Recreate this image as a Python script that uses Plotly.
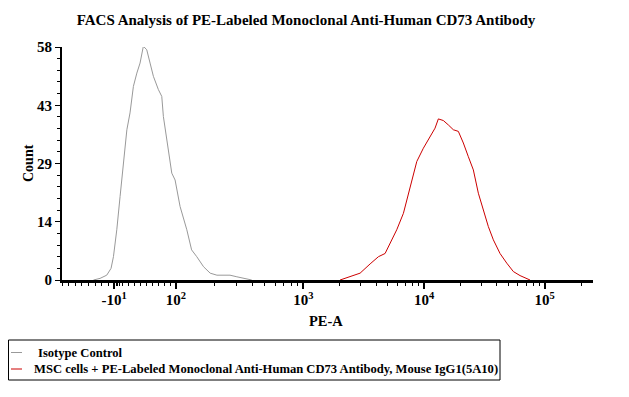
import numpy as np
import plotly.graph_objects as go

# ---------------- data (PE-A intensity, event count) ----------------
iso_pe = [-24.1, -18.2, -13.7, -11.4, -10.3, -2.9, 5.9, 10.8, 12.5, 14.3, 16.5, 19.1,
          21.9, 25.2, 27.1, 29.1, 33.5, 38.6, 47.7, 55.1, 59.0, 68.2, 84.3, 97.0,
          108, 122, 133, 146, 165, 186, 210, 222, 266, 301, 339, 394]
iso_count = [0.0, 0.4, 1.2, 2.9, 5.8, 12.5, 20.8, 29.0, 37.4, 41.6, 48.2, 51.5,
             54.0, 58.2, 57.8, 57.3, 54.0, 50.7, 47.4, 45.7, 40.7, 34.9, 26.6, 24.9,
             18.3, 12.5, 7.5, 5.8, 3.3, 1.7, 1.2, 1.2, 1.2, 0.8, 0.4, 0.0]

cd73_pe = [2014, 2438, 2951, 3573, 4188, 4755, 5228, 5939, 6745, 7656, 8707, 9868,
           11212, 12335, 13137, 14451, 15899, 17490, 19240, 21170, 23280, 25620,
           28180, 31000, 34100, 37520, 42630, 48450, 54950, 62440, 70950, 75530]
cd73_count = [0.0, 0.8, 1.7, 4.0, 5.8, 6.6, 9.1, 12.5, 16.6, 22.9, 29.5, 32.8,
              35.7, 37.8, 40.1, 39.7, 38.6, 37.4, 37.0, 34.1, 30.7, 27.4,
              21.6, 17.5, 13.3, 10.0, 6.6, 4.2, 2.1, 1.1, 0.4, 0.0]

x_tick_values = [-10, 100, 1000, 10000, 100000]
x_tick_labels = ["-10<sup>1</sup>", "10<sup>2</sup>", "10<sup>3</sup>", "10<sup>4</sup>", "10<sup>5</sup>"]
y_tick_values = [0, 14.5, 29, 43.5, 58]
y_tick_labels = ["0", "14", "29", "43", "58"]

series_names = ["Isotype Control",
                "MSC cells + PE-Labeled Monoclonal Anti-Human CD73 Antibody, Mouse IgG1(5A10)"]
series_colors = ["#999999", "#cc0000"]

# ---------------- biexponential-like display transform ----------------
LOG_ANCHORS = [1, 2, 3, 4, 5, 6]
DISP_ANCHORS = [1.494, 1.943, 3.0, 4.0, 5.0, 6.0]
ZERO_POS = 1.463
LIN_SLOPE = (1.494 - ZERO_POS) / 10.0


def to_display(v):
    v = np.asarray(v, dtype=float)
    out = ZERO_POS + v * LIN_SLOPE
    hi = v >= 10
    lo = v <= -10
    out[hi] = np.interp(np.log10(v[hi]), LOG_ANCHORS, DISP_ANCHORS)
    out[lo] = 2 * ZERO_POS - np.interp(np.log10(-v[lo]), LOG_ANCHORS, DISP_ANCHORS)
    return out


minor_vals = [-5, 0, 5]
for dec in [100, 1000, 10000]:
    minor_vals += [k * dec for k in range(2, 10)]
minor_vals += [200000]
minor_disp = list(to_display(minor_vals))
minor_disp += list(np.arange(1.0, 1.43, 0.055)) + list(np.arange(1.50, 1.94, 0.05))

FONT = "Liberation Serif"

# figure geometry (page body adds an 8px offset)
W, H = 621, 389
ML, MR, MT, MB = 54, 36, 39, 117
PW, PH = W - ML - MR, H - MT - MB


def px(x):
    return (x - ML) / PW


def py(y):
    return (H - MB - y) / PH


fig = go.Figure()
fig.add_trace(go.Scatter(x=to_display(iso_pe), y=iso_count, mode="lines",
                         name=series_names[0], line=dict(color=series_colors[0], width=1)))
fig.add_trace(go.Scatter(x=to_display(cd73_pe), y=cd73_count, mode="lines",
                         name=series_names[1], line=dict(color=series_colors[1], width=1)))

# legend drawn as a boxed key
shapes = [dict(type="rect", xref="paper", yref="paper", x0=px(0.5), x1=px(492),
               y0=py(372), y1=py(332), line=dict(color="black", width=1),
               fillcolor="white", layer="above")]
annotations = []
for i, (name, col, ly, tx) in enumerate(zip(series_names, series_colors, [344.5, 361], [28, 24])):
    shapes.append(dict(type="line", xref="paper", yref="paper", x0=px(3), x1=px(14),
                       y0=py(ly), y1=py(ly), line=dict(color=col, width=1), layer="above"))
    annotations.append(dict(text=name, xref="paper", yref="paper", x=px(tx), y=py(ly),
                            xanchor="left", yanchor="middle", showarrow=False,
                            font=dict(family=FONT, size=12.6, color="black", weight="bold")))

annotations.append(dict(text="Count", xref="paper", yref="paper", x=px(20), y=py(155),
                        xanchor="center", yanchor="middle", textangle=-90, showarrow=False,
                        font=dict(family=FONT, size=14, color="black", weight="bold")))
annotations.append(dict(text="PE-A", xref="paper", yref="paper", x=px(318), y=py(313),
                        xanchor="center", yanchor="middle", showarrow=False,
                        font=dict(family=FONT, size=14.5, color="black", weight="bold")))

fig.update_layout(
    width=W, height=H,
    margin=dict(l=ML, r=MR, t=MT, b=MB, autoexpand=False),
    paper_bgcolor="white", plot_bgcolor="white",
    font=dict(family=FONT, size=13, color="black", weight="bold"),
    title=dict(text="FACS Analysis of PE-Labeled Monoclonal Anti-Human CD73 Antibody",
               xref="container", yref="container", x=298 / W, xanchor="center",
               y=1 - 12 / H, yanchor="middle",
               font=dict(family=FONT, size=15, color="black", weight="bold")),
    showlegend=False,
    shapes=shapes,
    annotations=annotations,
)

fig.update_xaxes(
    range=[1.0, 5.40], showgrid=False, zeroline=False, automargin=False,
    showline=True, linecolor="black", linewidth=3,
    tickmode="array", tickvals=list(to_display(x_tick_values)), ticktext=x_tick_labels,
    ticks="outside", ticklen=6, tickwidth=2, tickcolor="black",
    ticklabelstandoff=-2,
    minor=dict(tickmode="array", tickvals=minor_disp, ticks="outside", ticklen=3,
               tickwidth=1, tickcolor="black", showgrid=False),
    tickfont=dict(family=FONT, size=15, weight="bold"),
)
fig.update_yaxes(
    range=[0, 58], showgrid=False, zeroline=False, automargin=False,
    showline=True, linecolor="black", linewidth=2,
    tickmode="array", tickvals=y_tick_values, ticktext=y_tick_labels,
    ticks="outside", ticklen=5, tickwidth=1, tickcolor="black",
    minor=dict(tickmode="array", tickvals=[k * 2.9 for k in range(21) if k % 5],
               ticks="outside", ticklen=3, tickwidth=1, tickcolor="black", showgrid=False),
    tickfont=dict(family=FONT, size=15, weight="bold"),
)

fig.write_html("out.html")
